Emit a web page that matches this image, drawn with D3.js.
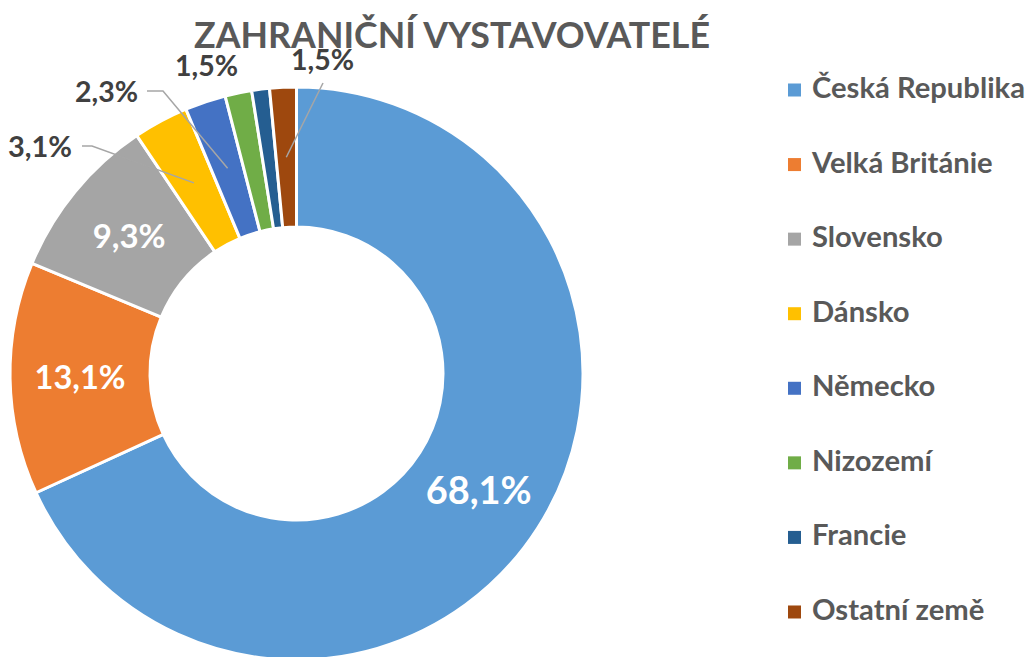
<!DOCTYPE html>
<html>
<head>
<meta charset="utf-8">
<script src="https://cdn.jsdelivr.net/npm/d3@7"></script>
<style>
  html, body { margin: 0; padding: 0; background: #fff; }
  svg { display: block; font-family: Lato, "Open Sans", sans-serif; font-weight: 700; }
</style>
</head>
<body>
<svg id="chart" width="1030" height="657"></svg>
<script>
// ---- data ----
const title = "ZAHRANIČNÍ VYSTAVOVATELÉ";
const categories = ["Česká Republika", "Velká Británie", "Slovensko", "Dánsko", "Německo", "Nizozemí", "Francie", "Ostatní země"];
const values = [68.1, 13.1, 9.3, 3.1, 2.3, 1.5, 1.0, 1.5];
const showLabel = [true, true, true, true, true, true, false, true];
const colors = ["#5B9BD5", "#ED7D31", "#A5A5A5", "#FFC000", "#4472C4", "#70AD47", "#255E91", "#9E480E"];

// ---- layout ----
const cx = 296.5, cy = 373.5, rOuter = 286.5, rInner = 146.5;
const svg = d3.select("#chart");
const fmt = v => v.toFixed(1).replace(".", ",") + "%";

function fitWidth(sel, target) {
  const node = sel.node();
  let size = parseFloat(sel.attr("font-size"));
  for (let i = 0; i < 3; i++) {
    const w = node.getComputedTextLength();
    size = size * target / w;
    sel.attr("font-size", size);
  }
  return size;
}

// title
const t = svg.append("text")
  .attr("x", 452).attr("y", 48)
  .attr("text-anchor", "middle")
  .attr("fill", "#595959")
  .attr("font-size", 40)
  .text(title);
fitWidth(t, 516);

// donut
const pie = d3.pie().sort(null).value(d => d);
const arcs = pie(values);
const arc = d3.arc().innerRadius(rInner).outerRadius(rOuter);
const g = svg.append("g").attr("transform", `translate(${cx},${cy})`);

g.selectAll("path.slice")
  .data(arcs)
  .join("path")
  .attr("class", "slice")
  .attr("d", arc)
  .attr("fill", (d, i) => colors[i])
  .attr("stroke", "#fff")
  .attr("stroke-width", 3)
  .attr("stroke-linejoin", "round");

// inside labels (white)
const insideCfg = { 0: 106, 1: 91, 2: 73 };
Object.keys(insideCfg).forEach(k => {
  const i = +k;
  const c = arc.centroid(arcs[i]);
  const tx = g.append("text")
    .attr("x", c[0])
    .attr("text-anchor", "middle")
    .attr("fill", "#fff")
    .attr("font-size", 36)
    .text(fmt(values[i]));
  const fs = fitWidth(tx, insideCfg[k]);
  tx.attr("y", c[1] + fs * 0.36);
});

// outside labels with leader lines
const outsideCfg = {
  3: { x: 8,   y: 157, w: 64, lead: [[82, 146], [92, 146]] },
  4: { x: 75,  y: 102, w: 63, lead: [[147, 91], [163, 91]] },
  5: { x: 175, y: 76,  w: 63, lead: null },
  7: { x: 291, y: 70,  w: 63, lead: [[323, 83]] }
};
const lineGen = d3.line();
Object.keys(outsideCfg).forEach(k => {
  const i = +k;
  if (!showLabel[i]) return;
  const o = outsideCfg[k];
  if (o.lead) {
    const c = arc.centroid(arcs[i]);
    const pts = o.lead.concat([[c[0] + cx, c[1] + cy]]);
    svg.append("path")
      .attr("d", lineGen(pts))
      .attr("fill", "none")
      .attr("stroke", "#A6A6A6")
      .attr("stroke-width", 1.5);
  }
  const tx = svg.append("text")
    .attr("x", o.x).attr("y", o.y)
    .attr("fill", "#404040")
    .attr("font-size", 26)
    .text(fmt(values[i]));
  fitWidth(tx, o.w);
});

// legend
const legend = svg.append("g");
const rowY = i => 90 + i * 74.57;
legend.selectAll("rect")
  .data(categories)
  .join("rect")
  .attr("x", 788)
  .attr("y", (d, i) => rowY(i) - 6.5)
  .attr("width", 13)
  .attr("height", 13)
  .attr("fill", (d, i) => colors[i]);
const lt = legend.selectAll("text")
  .data(categories)
  .join("text")
  .attr("x", 812)
  .attr("y", (d, i) => rowY(i) + 8)
  .attr("fill", "#595959")
  .attr("font-size", 26)
  .text(d => d);
const fsL = fitWidth(d3.select(lt.nodes()[0]), 213);
lt.attr("font-size", fsL);
</script>
</body>
</html>
